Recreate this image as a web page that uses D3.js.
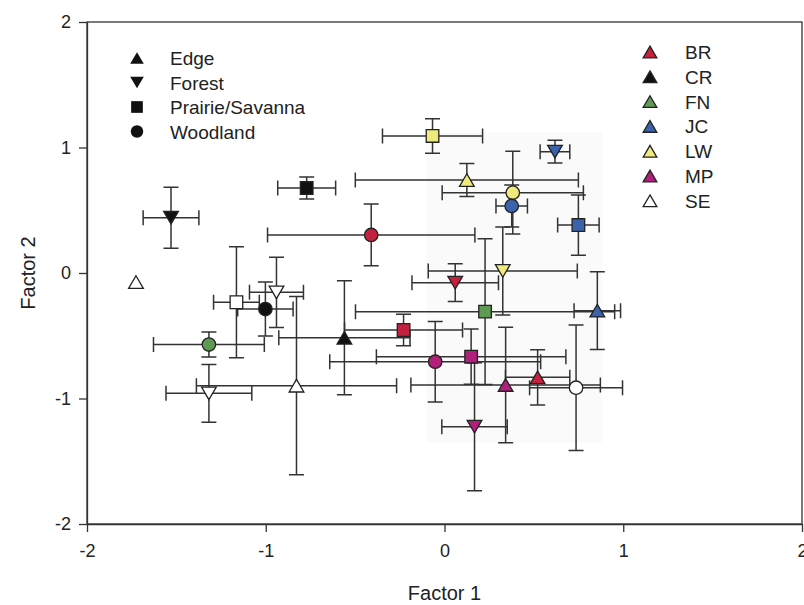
<!DOCTYPE html>
<html>
<head>
  <meta charset="utf-8">
  <title>Factor scores by site and habitat</title>
  <script src="https://d3js.org/d3.v7.min.js"></script>
  <style>
    body { margin: 0; background: #fff; }
    svg text { font-family: "Liberation Sans", Arial, sans-serif; fill: #222; }
  </style>
</head>
<body>
<div id="chart"></div>
<script>
// sites and habitats
var sites = ["BR", "CR", "FN", "JC", "LW", "MP", "SE"];
var siteColors = ["#c4213f", "#111111", "#5f9a55", "#3b62aa", "#eeea7c", "#b01f79", "#ffffff"];
var habitats = ["Edge", "Forest", "Prairie/Savanna", "Woodland"];

// one entry per site x habitat mean (with SE bars)
var pointSite    = ["CR", "CR", "SE", "SE", "SE", "CR", "FN", "SE", "SE", "CR", "BR", "BR", "LW", "JC",
                    "LW", "LW", "JC", "JC", "LW", "BR", "JC", "FN", "MP", "MP", "MP", "MP", "BR", "SE"];
var pointHabitat = ["Forest", "Prairie/Savanna", "Edge", "Prairie/Savanna", "Forest", "Woodland", "Woodland", "Forest",
                    "Edge", "Edge", "Prairie/Savanna", "Woodland", "Prairie/Savanna", "Forest",
                    "Edge", "Woodland", "Woodland", "Prairie/Savanna", "Forest", "Forest", "Edge", "Prairie/Savanna",
                    "Woodland", "Prairie/Savanna", "Forest", "Edge", "Edge", "Woodland"];
var factor1 = [-1.53, -0.771, -1.726, -1.164, -0.94, -1.002, -1.318, -1.318, -0.828, -0.56, -0.229, -0.41, -0.067, 0.618,
               0.125, 0.382, 0.376, 0.749, 0.326, 0.06, 0.855, 0.227, -0.052, 0.149, 0.168, 0.342, 0.521, 0.736];
var factor2 = [0.44, 0.677, -0.072, -0.233, -0.154, -0.287, -0.57, -0.959, -0.898, -0.516, -0.454, 0.303, 1.092, 0.967,
               0.741, 0.64, 0.534, 0.382, 0.016, -0.077, -0.3, -0.308, -0.707, -0.667, -1.225, -0.892, -0.831, -0.914];
var err1 = [0.156, 0.162, 0, 0.128, 0.151, 0.155, 0.31, 0.24, 0.56, 0.367, 0.33, 0.58, 0.28, 0.083,
            0.624, 0.395, 0.088, 0.116, 0.417, 0.242, 0.13, 0.725, 0.59, 0.53, 0.183, 0.53, 0.18, 0.26];
var err2 = [0.243, 0.088, 0, 0.442, 0.28, 0.215, 0.1, 0.23, 0.71, 0.455, 0.125, 0.246, 0.137, 0.09,
            0.132, 0.33, 0.167, 0.24, 0.35, 0.15, 0.31, 0.58, 0.32, 0.22, 0.51, 0.46, 0.22, 0.5];

var axisTicks = [-2, -1, 0, 1, 2];

var W = 804, H = 605;
var margin = {top: 22, right: 2, bottom: 81, left: 87};
var iw = W - margin.left - margin.right, ih = H - margin.top - margin.bottom;

var svg = d3.select("#chart").append("svg").attr("width", W).attr("height", H);
var g = svg.append("g").attr("transform", "translate(" + margin.left + "," + margin.top + ")");

var x = d3.scaleLinear().domain([-2, 2]).range([0, iw]);
var y = d3.scaleLinear().domain([-2, 2]).range([ih, 0]);
var color = d3.scaleOrdinal().domain(sites).range(siteColors);

// faint grey patch behind the right-hand cluster
g.append("rect")
  .attr("x", x(-0.1)).attr("y", y(1.12))
  .attr("width", x(0.88) - x(-0.1)).attr("height", y(-1.35) - y(1.12))
  .attr("fill", "#fafafa");

// marker shapes, centred on the bounding box
function shape(hab, s) {
  var h = s * 0.9, w = s * 1.05;
  if (hab === "Edge") return "M0," + (-h / 2) + "L" + (w / 2) + "," + (h / 2) + "L" + (-w / 2) + "," + (h / 2) + "Z";
  if (hab === "Forest") return "M0," + (h / 2) + "L" + (w / 2) + "," + (-h / 2) + "L" + (-w / 2) + "," + (-h / 2) + "Z";
  if (hab === "Prairie/Savanna") { var q = s * 0.45; return "M" + -q + "," + -q + "H" + q + "V" + q + "H" + -q + "Z"; }
  var r = s * 0.48;
  return "M" + r + ",0A" + r + "," + r + " 0 1,1 " + -r + ",0A" + r + "," + r + " 0 1,1 " + r + ",0Z";
}

var pts = factor1.map(function(v, i) {
  return {site: pointSite[i], hab: pointHabitat[i], x: v, y: factor2[i], ex: err1[i], ey: err2[i]};
});

// error bars
var cap = 7.5;
var bars = g.append("g").attr("stroke", "#333").attr("stroke-width", 1.5).attr("fill", "none");
pts.filter(function(d) { return d.ex > 0 || d.ey > 0; }).forEach(function(d) {
  var cx = x(d.x), cy = y(d.y);
  var x0 = x(d.x - d.ex), x1 = x(d.x + d.ex), y0 = y(d.y + d.ey), y1 = y(d.y - d.ey);
  bars.append("path").attr("d",
    "M" + x0 + "," + cy + "H" + x1 +
    "M" + x0 + "," + (cy - cap) + "V" + (cy + cap) +
    "M" + x1 + "," + (cy - cap) + "V" + (cy + cap) +
    "M" + cx + "," + y0 + "V" + y1 +
    "M" + (cx - cap) + "," + y0 + "H" + (cx + cap) +
    "M" + (cx - cap) + "," + y1 + "H" + (cx + cap));
});

// markers
g.append("g").selectAll("path").data(pts).enter().append("path")
  .attr("transform", function(d) { return "translate(" + x(d.x) + "," + y(d.y) + ")"; })
  .attr("d", function(d) { return shape(d.hab, 14); })
  .attr("fill", function(d) { return color(d.site); })
  .attr("stroke", "#222").attr("stroke-width", 1.3);

// frame + axes
g.append("rect").attr("width", iw).attr("height", ih)
  .attr("fill", "none").attr("stroke", "#333").attr("stroke-width", 1.3);

var fmt = function(d) { return String(d); };
var xAxis = g.append("g").attr("transform", "translate(0," + ih + ")")
  .call(d3.axisBottom(x).tickValues(axisTicks).tickFormat(fmt).tickSize(8).tickSizeOuter(0).tickPadding(12));
var yAxis = g.append("g")
  .call(d3.axisLeft(y).tickValues(axisTicks).tickFormat(fmt).tickSize(8).tickSizeOuter(0).tickPadding(8));
[xAxis, yAxis].forEach(function(a) {
  a.select(".domain").attr("stroke", "#333").attr("stroke-width", 1.3);
  a.selectAll(".tick line").attr("stroke", "#333").attr("stroke-width", 1.3);
  a.selectAll(".tick text").attr("font-size", 18).attr("fill", "#222")
    .attr("font-family", "'Liberation Sans', Arial, sans-serif");
});

svg.append("text").attr("x", margin.left + x(0)).attr("y", 600)
  .attr("text-anchor", "middle").attr("font-size", 20).text("Factor 1");
svg.append("text").attr("transform", "translate(35," + (margin.top + y(0)) + ") rotate(-90)")
  .attr("text-anchor", "middle").attr("font-size", 20).text("Factor 2");

// habitat legend
var habLeg = svg.append("g");
habitats.forEach(function(h, i) {
  var ly = 58 + i * 24.5;
  habLeg.append("path").attr("transform", "translate(137," + ly + ")")
    .attr("d", shape(h, 13)).attr("fill", "#111");
  habLeg.append("text").attr("x", 170).attr("y", ly + 7).attr("font-size", 19).text(h);
});

// site legend
var siteLeg = svg.append("g");
sites.forEach(function(s, i) {
  var ly = 52 + i * 24.8;
  siteLeg.append("path").attr("transform", "translate(650," + ly + ")")
    .attr("d", shape("Edge", 13)).attr("fill", color(s)).attr("stroke", "#222").attr("stroke-width", 1.3);
  siteLeg.append("text").attr("x", 685).attr("y", ly + 7).attr("font-size", 19).text(s);
});
</script>
</body>
</html>
